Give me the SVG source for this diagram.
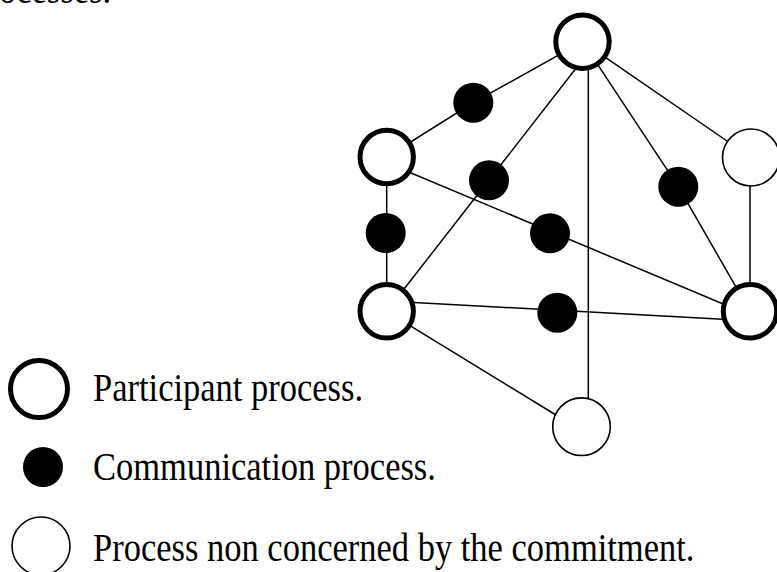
<svg xmlns="http://www.w3.org/2000/svg" width="777" height="572" viewBox="0 0 777 572">
<style>
.edge{stroke:#000;stroke-width:1.5;fill:none}
.part{fill:#fff;stroke:#000;stroke-width:5}
.comm{fill:#000;stroke:none}
.other{fill:#fff;stroke:#000;stroke-width:1.6}
.lbl{font-family:"Liberation Serif","Times New Roman",serif;font-size:34.5px;fill:#000}
</style>
<rect width="777" height="572" fill="#fff"/>
<text class="lbl" transform="translate(-1,2.8) scale(1,1.18)" x="0" y="0">ocesses.</text>
<g id="connectors">
<line class="edge" x1="582.5" y1="41.7" x2="473.3" y2="102.7"/>
<line class="edge" x1="473.3" y1="102.7" x2="386.7" y2="157"/>
<line class="edge" x1="576.4" y1="67.8" x2="386.7" y2="311.3"/>
<line class="edge" x1="588.3" y1="60" x2="588.3" y2="400"/>
<line class="edge" x1="582.5" y1="41.7" x2="751" y2="157.5"/>
<line class="edge" x1="582.5" y1="41.7" x2="678.3" y2="186.7"/>
<line class="edge" x1="678.3" y1="186.7" x2="750" y2="311.3"/>
<line class="edge" x1="750" y1="157.5" x2="750" y2="311.3"/>
<line class="edge" x1="386.7" y1="157" x2="386.7" y2="311.3"/>
<line class="edge" x1="386.7" y1="162.8" x2="750" y2="315.2"/>
<line class="edge" x1="386.7" y1="301" x2="750" y2="320.8"/>
<line class="edge" x1="386.7" y1="311.3" x2="560" y2="417.5"/>
</g>
<g id="n-top"><circle class="part" cx="582.5" cy="41.7" r="26.7"/></g>
<g id="n-left-upper"><circle class="part" cx="386.7" cy="157" r="26.7"/></g>
<g id="n-left-lower"><circle class="part" cx="386.7" cy="311.3" r="26.7"/></g>
<g id="n-right-lower"><circle class="part" cx="750" cy="311.3" r="26.7"/></g>
<g id="n-right-upper"><circle class="other" cx="751" cy="157.5" r="28.5"/></g>
<g id="n-bottom"><circle class="other" cx="581.5" cy="426.7" r="28.8"/></g>
<g id="c1"><circle class="comm" cx="473.3" cy="102.7" r="20"/></g>
<g id="c2"><circle class="comm" cx="489" cy="180.3" r="20"/></g>
<g id="c3"><circle class="comm" cx="385.7" cy="233" r="20"/></g>
<g id="c4"><circle class="comm" cx="550" cy="233.3" r="20"/></g>
<g id="c5"><circle class="comm" cx="678.3" cy="186.7" r="20"/></g>
<g id="c6"><circle class="comm" cx="557.3" cy="312.7" r="20"/></g>
<g id="legend-participant">
<circle class="part" cx="39" cy="389" r="28.5"/>
<text class="lbl" transform="translate(93,400.7) scale(1,1.18)" x="0" y="0">Participant process.</text>
</g>
<g id="legend-communication">
<circle class="comm" cx="43" cy="467" r="20"/>
<text class="lbl" transform="translate(93,480) scale(1,1.18)" x="0" y="0">Communication process.</text>
</g>
<g id="legend-other">
<circle class="other" cx="41" cy="546" r="29"/>
<text class="lbl" transform="translate(93,561) scale(1,1.18)" x="0" y="0">Process non concerned by the commitment.</text>
</g>
</svg>
